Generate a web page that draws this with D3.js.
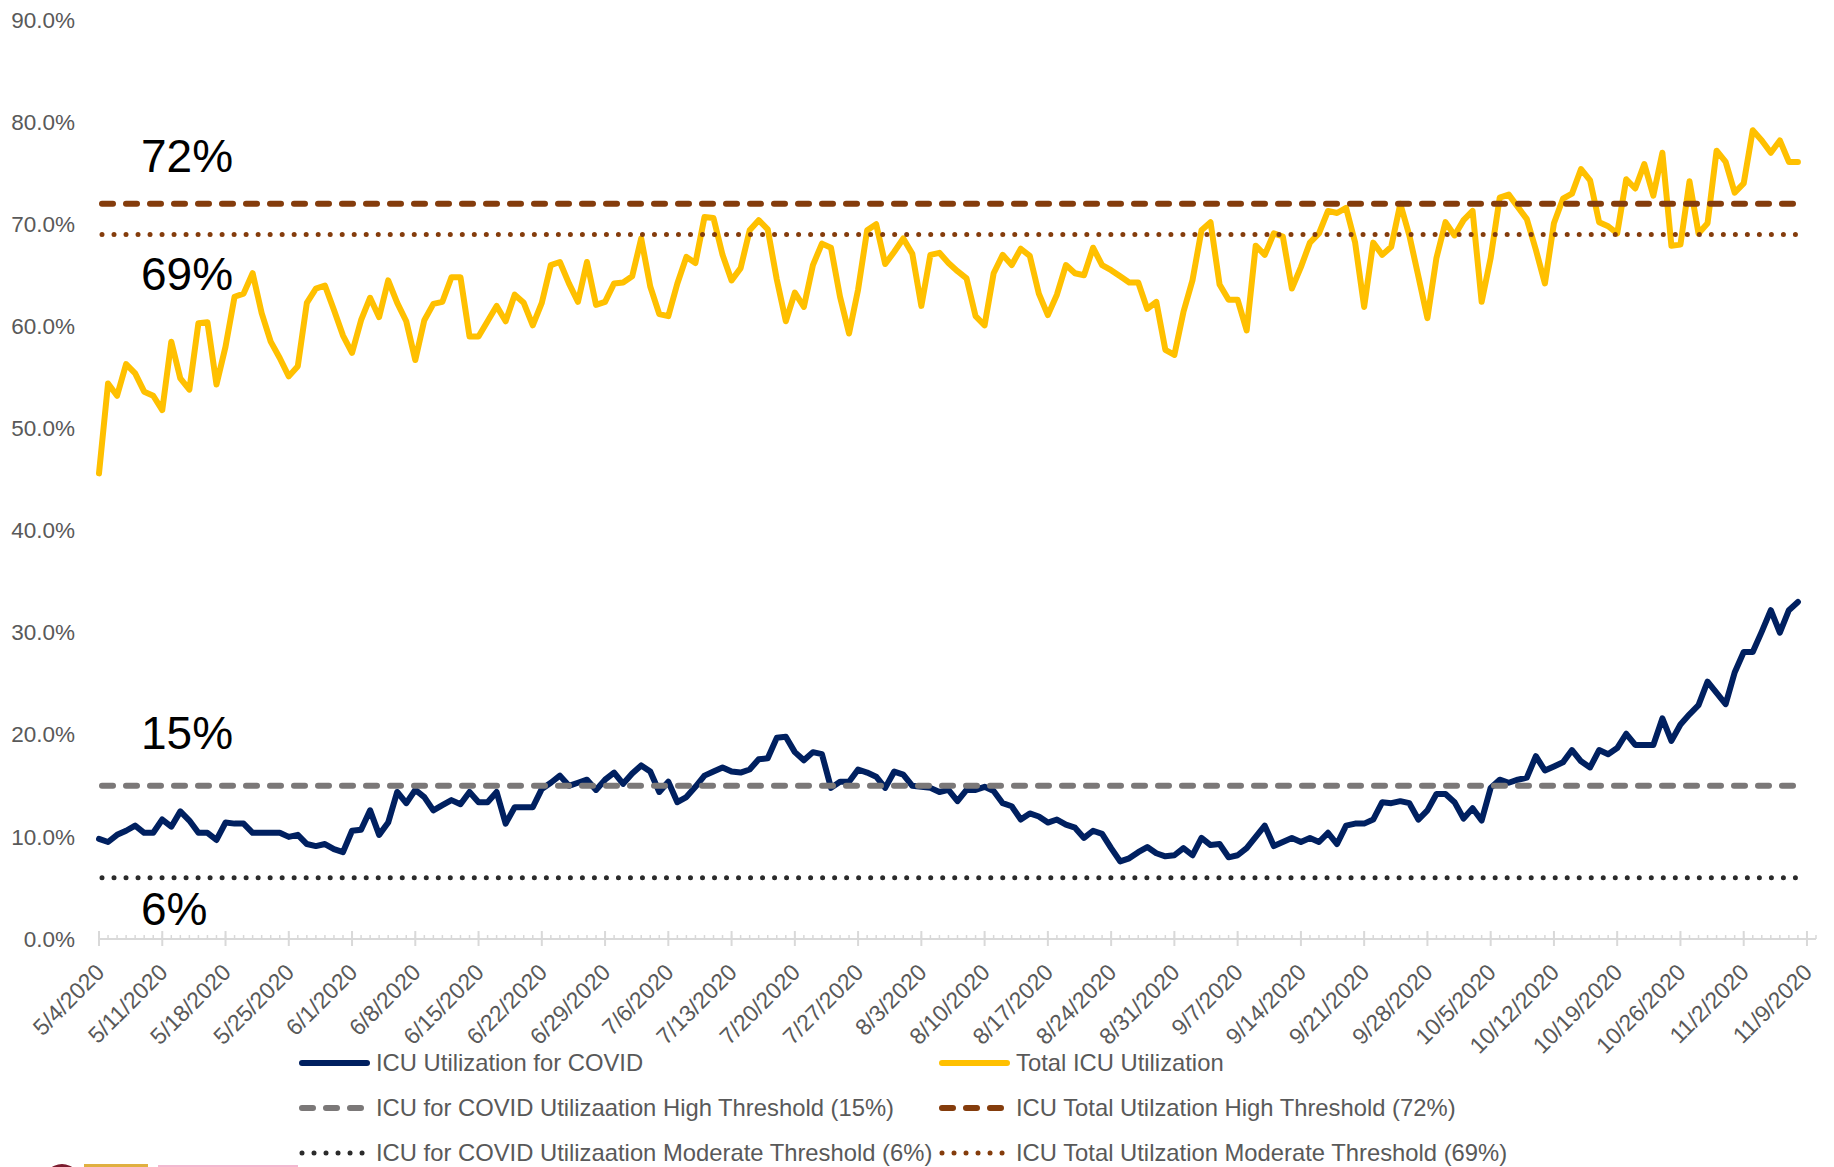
<!DOCTYPE html>
<html lang="en">
<head>
<meta charset="utf-8">
<title>ICU Utilization</title>
<script src="https://d3js.org/d3.v7.min.js"></script>
<style type="text/css">
    body { margin: 0; background: #fff; }
    svg { display: block; font-family: "Liberation Sans", Arial, sans-serif; }
    .yAxis text { fill: #595959; font-size: 22.5px; }
    .xLabels text { fill: #595959; font-size: 23px; }
    .legend text { fill: #595959; font-size: 23.8px; }
    .thresholdLabel { fill: #000; font-size: 46px; }
</style>
</head>
<body>
<div class="chart"></div>
<script>
// categories: one point per day, 5/4/2020 .. 11/8/2020
var startDate = new Date(Date.UTC(2020, 4, 4));
var lastDate = new Date(Date.UTC(2020, 10, 9));   // exclusive
var axisEnd = new Date(Date.UTC(2020, 10, 10));
var dates = d3.utcDay.range(startDate, lastDate);

// ICU Utilization for COVID (%)
var covidUtil = [
    9.8, 9.5, 10.2, 10.6, 11.1, 10.4, 10.4, 11.7, 11.0, 12.5,
    11.6, 10.4, 10.4, 9.7, 11.4, 11.3, 11.3, 10.4, 10.4, 10.4,
    10.4, 10.0, 10.2, 9.3, 9.1, 9.3, 8.8, 8.5, 10.6, 10.7,
    12.6, 10.2, 11.4, 14.4, 13.3, 14.6, 13.9, 12.6, 13.1, 13.6,
    13.2, 14.4, 13.4, 13.4, 14.4, 11.3, 12.9, 12.9, 12.9, 14.7,
    15.3, 16.0, 15.0, 15.3, 15.6, 14.6, 15.6, 16.3, 15.2, 16.2,
    17.0, 16.4, 14.4, 15.4, 13.4, 13.9, 14.9, 16.0, 16.4, 16.8,
    16.4, 16.3, 16.6, 17.6, 17.7, 19.7, 19.8, 18.3, 17.5, 18.3,
    18.1, 14.8, 15.4, 15.4, 16.6, 16.3, 15.9, 14.8, 16.4, 16.1,
    15.0, 14.9, 14.8, 14.4, 14.6, 13.5, 14.6, 14.6, 14.9, 14.5,
    13.3, 13.0, 11.7, 12.3, 12.0, 11.4, 11.7, 11.2, 10.9, 9.9,
    10.6, 10.3, 8.9, 7.6, 7.9, 8.5, 9.0, 8.4, 8.1, 8.2,
    8.9, 8.2, 9.9, 9.2, 9.3, 8.0, 8.2, 8.9, 10.0, 11.1,
    9.1, 9.5, 9.9, 9.5, 9.9, 9.5, 10.4, 9.3, 11.1, 11.3,
    11.3, 11.7, 13.4, 13.3, 13.5, 13.3, 11.7, 12.6, 14.2, 14.2,
    13.4, 11.8, 12.8, 11.6, 14.8, 15.6, 15.3, 15.6, 15.8, 17.9,
    16.5, 16.9, 17.3, 18.5, 17.4, 16.8, 18.5, 18.1, 18.7, 20.1,
    19.0, 19.0, 19.0, 21.6, 19.4, 21.0, 22.0, 22.9, 25.2, 24.1,
    23.0, 26.1, 28.1, 28.1, 30.1, 32.2, 30.0, 32.2, 33.0
];

// Total ICU Utilization (%)
var totalUtil = [
    45.6, 54.4, 53.2, 56.3, 55.4, 53.6, 53.2, 51.8, 58.5, 54.9,
    53.8, 60.3, 60.4, 54.3, 58.0, 62.9, 63.2, 65.2, 61.3, 58.5,
    56.9, 55.1, 56.1, 62.3, 63.7, 64.0, 61.6, 59.1, 57.4, 60.6,
    62.8, 60.9, 64.5, 62.3, 60.5, 56.7, 60.6, 62.2, 62.4, 64.8,
    64.8, 59.0, 59.0, 60.5, 62.0, 60.5, 63.1, 62.3, 60.1, 62.3,
    66.0, 66.3, 64.2, 62.4, 66.3, 62.1, 62.4, 64.2, 64.3, 64.9,
    68.6, 63.9, 61.2, 61.0, 64.2, 66.8, 66.2, 70.7, 70.6, 67.0,
    64.5, 65.7, 69.4, 70.4, 69.5, 64.6, 60.5, 63.3, 61.9, 66.0,
    68.1, 67.7, 62.9, 59.3, 63.6, 69.4, 70.0, 66.1, 67.3, 68.6,
    67.1, 62.0, 67.0, 67.2, 66.2, 65.4, 64.7, 61.0, 60.1, 65.2,
    67.0, 66.0, 67.6, 66.9, 63.2, 61.1, 63.1, 66.0, 65.2, 65.0,
    67.7, 66.0, 65.5, 64.9, 64.3, 64.3, 61.7, 62.4, 57.7, 57.2,
    61.4, 64.5, 69.4, 70.2, 64.1, 62.6, 62.6, 59.6, 67.9, 67.0,
    69.1, 68.8, 63.7, 65.8, 68.2, 69.1, 71.3, 71.1, 71.6, 68.2,
    61.9, 68.2, 67.0, 67.8, 72.0, 68.9, 64.9, 60.8, 66.7, 70.2,
    68.9, 70.4, 71.3, 62.4, 66.7, 72.6, 72.9, 71.7, 70.5, 67.5,
    64.2, 70.1, 72.5, 73.0, 75.4, 74.3, 70.2, 69.8, 69.1, 74.4,
    73.5, 75.9, 72.8, 77.0, 67.9, 68.0, 74.2, 69.1, 70.1, 77.2,
    76.1, 73.1, 74.0, 79.2, 78.2, 77.0, 78.2, 76.1, 76.1
];

// thresholds
var covidHigh = 0.15, covidModerate = 0.06;
var totalHigh = 0.72, totalModerate = 0.69;

var yTicks = [0, 0.1, 0.2, 0.3, 0.4, 0.5, 0.6, 0.7, 0.8, 0.9];
var weekLabels = ["5/4/2020", "5/11/2020", "5/18/2020", "5/25/2020", "6/1/2020", "6/8/2020",
    "6/15/2020", "6/22/2020", "6/29/2020", "7/6/2020", "7/13/2020", "7/20/2020", "7/27/2020",
    "8/3/2020", "8/10/2020", "8/17/2020", "8/24/2020", "8/31/2020", "9/7/2020", "9/14/2020",
    "9/21/2020", "9/28/2020", "10/5/2020", "10/12/2020", "10/19/2020", "10/26/2020",
    "11/2/2020", "11/9/2020"];

var width = 1834, height = 1167;

var svg = d3.select(".chart").append("svg")
    .attr("width", width)
    .attr("height", height);

var x = d3.scaleUtc().domain([startDate, axisEnd]).range([99, 1816]);
var y = d3.scaleLinear().domain([0, 0.9]).range([939, 20]);

// y axis: labels only
var yAxis = svg.append("g")
    .attr("class", "yAxis")
    .attr("transform", "translate(99,0)")
    .call(d3.axisLeft(y).tickValues(yTicks).tickFormat(d3.format(".1%")).tickSize(0).tickPadding(24));
yAxis.select(".domain").remove();
yAxis.selectAll("text").style("font-family", null).style("font-size", null);

// x axis line with daily minor and weekly major ticks
var mondays = d3.utcMonday.range(startDate, axisEnd);
var allDays = d3.utcDay.range(startDate, d3.utcDay.offset(axisEnd, 1));

svg.append("line")
    .attr("x1", x(startDate)).attr("x2", x(axisEnd))
    .attr("y1", y(0)).attr("y2", y(0))
    .style("stroke", "#d9d9d9").style("stroke-width", 2);

svg.append("g").selectAll("line")
    .data(allDays).enter().append("line")
    .attr("x1", function(d) { return x(d); })
    .attr("x2", function(d) { return x(d); })
    .attr("y1", y(0) - 4).attr("y2", y(0))
    .style("stroke", "#d9d9d9").style("stroke-width", 1.5);

svg.append("g").selectAll("line")
    .data(mondays).enter().append("line")
    .attr("x1", function(d) { return x(d); })
    .attr("x2", function(d) { return x(d); })
    .attr("y1", y(0) - 8).attr("y2", y(0) + 7)
    .style("stroke", "#d9d9d9").style("stroke-width", 2);

svg.append("g").attr("class", "xLabels").selectAll("text")
    .data(mondays).enter().append("text")
    .attr("transform", function(d) { return "translate(" + (x(d) + 1) + "," + (y(0) + 29) + ") rotate(-45)"; })
    .attr("text-anchor", "end")
    .attr("dy", "0.35em")
    .text(function(d, i) { return weekLabels[i]; });

// data lines
var line = d3.line()
    .x(function(d, i) { return x(dates[i]); })
    .y(function(d) { return y(d / 100); });

svg.append("path").datum(covidUtil)
    .attr("d", line)
    .style("fill", "none").style("stroke", "#002060").style("stroke-width", 6)
    .style("stroke-linejoin", "round").style("stroke-linecap", "round");

svg.append("path").datum(totalUtil)
    .attr("d", line)
    .style("fill", "none").style("stroke", "#ffc000").style("stroke-width", 6)
    .style("stroke-linejoin", "round").style("stroke-linecap", "round");

// threshold lines
var dashStyle = "11,13", dotStyle = "0.01,12";
var thresholds = [
    { v: covidHigh, color: "#7b7878", dash: dashStyle, w: 6 },
    { v: totalHigh, color: "#843c0c", dash: dashStyle, w: 6 },
    { v: covidModerate, color: "#2b2b2b", dash: dotStyle, w: 5 },
    { v: totalModerate, color: "#843c0c", dash: dotStyle, w: 5 }
];

svg.append("g").selectAll("line")
    .data(thresholds).enter().append("line")
    .attr("x1", x(dates[0]) + 3)
    .attr("x2", x(dates[dates.length - 1]))
    .attr("y1", function(d) { return y(d.v); })
    .attr("y2", function(d) { return y(d.v); })
    .style("stroke", function(d) { return d.color; })
    .style("stroke-width", function(d) { return d.w; })
    .style("stroke-dasharray", function(d) { return d.dash; })
    .style("stroke-linecap", "round");

// big threshold annotations
var annotations = [
    { v: totalHigh, dy: -32 },
    { v: totalModerate, dy: 56 },
    { v: covidHigh, dy: -37 },
    { v: covidModerate, dy: 47 }
];
svg.append("g").selectAll("text")
    .data(annotations).enter().append("text")
    .attr("class", "thresholdLabel")
    .attr("x", 141)
    .attr("y", function(d) { return y(d.v) + d.dy; })
    .text(function(d) { return Math.round(d.v * 100) + "%"; });

// legend
var legendItems = [
    { name: "ICU Utilization for COVID", color: "#002060", dash: null, w: 6 },
    { name: "Total ICU Utilization", color: "#ffc000", dash: null, w: 6 },
    { name: "ICU for COVID Utilizaation High Threshold (15%)", color: "#7b7878", dash: dashStyle, w: 6 },
    { name: "ICU Total Utilzation High Threshold (72%)", color: "#843c0c", dash: dashStyle, w: 6 },
    { name: "ICU for COVID Utilizaation Moderate Threshold (6%)", color: "#2b2b2b", dash: dotStyle, w: 5 },
    { name: "ICU Total Utilzation Moderate Threshold (69%)", color: "#843c0c", dash: dotStyle, w: 5 }
];
var legendCols = [299, 939], legendRows = [1063, 1108, 1153];

var legend = svg.append("g").attr("class", "legend")
    .selectAll("g").data(legendItems).enter().append("g")
    .attr("transform", function(d, i) {
        return "translate(" + legendCols[i % 2] + "," + legendRows[Math.floor(i / 2)] + ")";
    });

legend.append("line")
    .attr("x1", 3).attr("x2", 68)
    .attr("y1", 0).attr("y2", 0)
    .style("stroke", function(d) { return d.color; })
    .style("stroke-width", function(d) { return d.w; })
    .style("stroke-dasharray", function(d) { return d.dash; })
    .style("stroke-linecap", "round");

legend.append("text")
    .attr("x", 77)
    .attr("dy", "0.35em")
    .text(function(d) { return d.name; });

// partial logo peeking in at bottom-left
var logo = svg.append("g");
logo.append("ellipse").attr("cx", 62).attr("cy", 1186).attr("rx", 20).attr("ry", 22).style("fill", "#7b1c2e");
logo.append("rect").attr("x", 84).attr("y", 1164).attr("width", 64).attr("height", 3).style("fill", "#e0b040");
logo.append("rect").attr("x", 158).attr("y", 1165).attr("width", 140).attr("height", 2).style("fill", "#f2b8d0");
</script>
</body>
</html>
